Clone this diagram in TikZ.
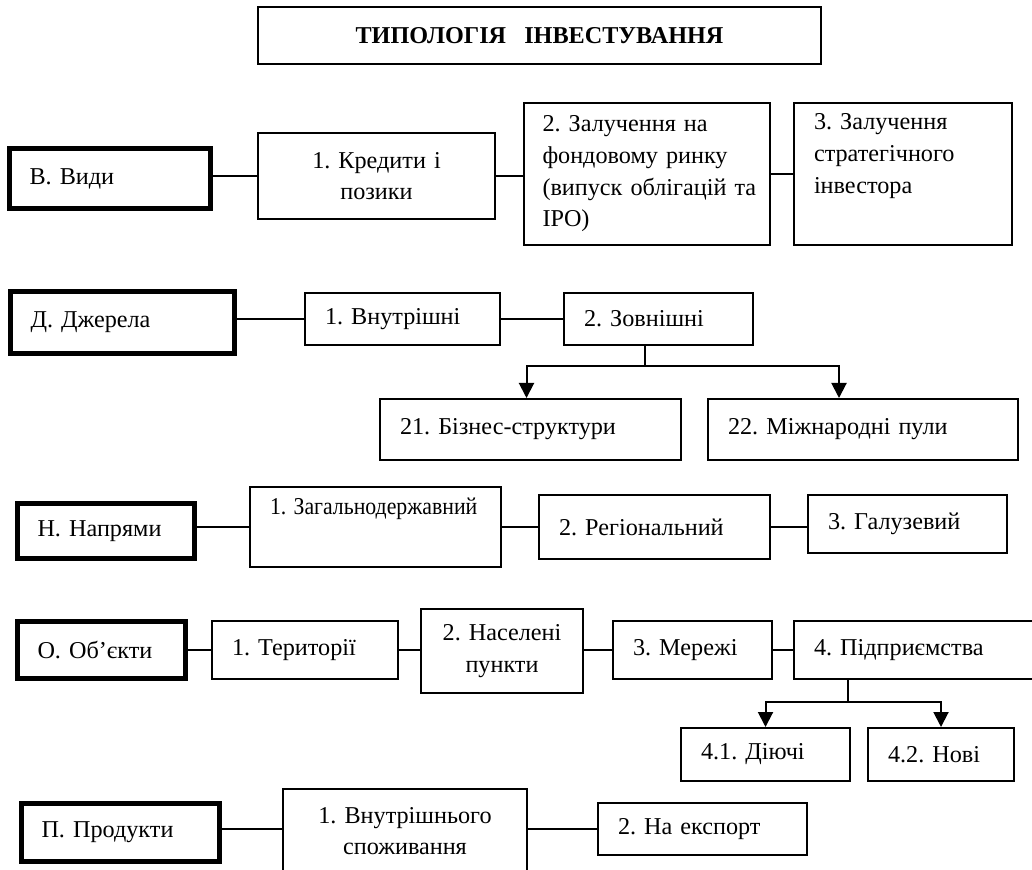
\documentclass[tikz,border=0pt]{standalone}
\usepackage{fontspec}
\setmainfont{Liberation Serif}
\usepackage{graphicx}
\usetikzlibrary{arrows.meta}
\frenchspacing
\newcommand{\diagfont}{\fontsize{12.1pt}{15.85pt}\selectfont}

\begin{document}
\begin{tikzpicture}[
    x=0.5pt, y=-0.5pt,
    box/.style={rectangle, draw, line width=1pt, inner xsep=10pt, inner ysep=0pt, align=left, font=\diagfont},
    cbox/.style={box, inner xsep=5pt, align=center},
    head/.style={box, line width=2.5pt},
    link/.style={line width=1pt},
    arrow/.style={-{Triangle[length=7.5pt,width=7.5pt]}, line width=1pt}
]
    \useasboundingbox (0,0) rectangle (1032,870);

    \node[cbox, text width=271.5pt, minimum height=28.5pt, font=\diagfont\bfseries] (title) at (539.5,35.5) {ТИПОЛОГІЯ\hspace{0.75em}ІНВЕСТУВАННЯ};

    \node[head, text width=80.5pt, minimum height=30pt] (v0) at (110,178.5) {В. Види};
    \node[cbox, text width=108.5pt, minimum height=43pt] (v1) at (376.5,176) {1. Кредити і\\позики};
    \node[box, text width=104pt, minimum height=71pt, inner xsep=9.5pt] (v2) at (646.5,174) {2. Залучення на\\фондовому ринку\\\mbox{(випуск облігацій та}\\IPO)};
    \node[box, text width=89pt, minimum height=71pt] (v3) at (903,174) {3. Залучення\\стратегічного\\інвестора\\\strut};

    \node[head, text width=92pt, minimum height=31pt] (d0) at (122.5,322.5) {Д. Джерела};
    \node[box, text width=77.5pt, minimum height=26pt] (d1) at (402.5,319) {1. Внутрішні};
    \node[box, text width=74.5pt, minimum height=26pt] (d2) at (658.5,319) {2. Зовнішні};
    \node[box, text width=130.5pt, minimum height=30.5pt] (d21) at (530.5,429.5) {21. Бізнес-структури};
    \node[box, text width=135pt, minimum height=30.5pt] (d22) at (863,429.5) {22. Міжнародні пули};
    \coordinate (dfork) at (645,366);

    \node[head, text width=68.5pt, minimum height=27.5pt] (n0) at (106,531) {Н. Напрями};
    \node[box, text width=105.5pt, minimum height=40pt] (n1) at (375.5,527) {\scalebox{0.9}[1]{1. Загальнодержавний}\\\strut};
    \node[box, text width=95.5pt, minimum height=32pt] (n2) at (654.5,527) {2. Регіональний};
    \node[box, text width=79.5pt, minimum height=29pt] (n3) at (907.5,524) {3. Галузевий};

    \node[head, text width=64pt, minimum height=28.5pt] (o0) at (101.5,650) {О. Об’єкти};
    \node[box, text width=73pt, minimum height=29pt] (o1) at (305,650) {1. Території};
    \node[cbox, text width=71pt, minimum height=42pt] (o2) at (502,651) {2. Населені\\пункти};
    \node[box, text width=59.5pt, minimum height=29pt] (o3) at (692.5,650) {3. Мережі};
    \node[box, text width=105.5pt, minimum height=29pt] (o4) at (919.5,650) {4. Підприємства};
    \node[box, text width=64.5pt, minimum height=26.5pt] (o41) at (765.5,754.5) {4.1. Діючі};
    \node[box, text width=53pt, minimum height=26.5pt] (o42) at (941,754.5) {4.2. Нові};
    \coordinate (ofork) at (848,702);

    \node[head, text width=79pt, minimum height=29pt] (p0) at (120.5,832.5) {П. Продукти};
    \node[cbox, text width=112pt, minimum height=42pt] (p1) at (405,831) {1. Внутрішнього\\споживання};
    \node[box, text width=84.5pt, minimum height=26pt] (p2) at (702.5,829) {2. На експорт};

    \draw[link] (v1.west -| v0.east) -- (v1.west);
    \draw[link] (v1.east) -- (v1.east -| v2.west);
    \draw[link] (v2.east) -- (v3.west);

    \draw[link] (d1.west -| d0.east) -- (d1.west);
    \draw[link] (d1.east) -- (d2.west);
    \draw[link] (dfork |- d2.south) -- (dfork);
    \draw[arrow] (dfork) -| ([xshift=-2pt]d21.north);
    \draw[arrow] (dfork) -| ([xshift=-12pt]d22.north);

    \draw[link] (n1.west -| n0.east) -- (n1.west);
    \draw[link] (n1.east) -- (n2.west);
    \draw[link] (n2.east) -- (n2.east -| n3.west);

    \draw[link] (o0.east) -- (o1.west);
    \draw[link] (o1.east) -- (o1.east -| o2.west);
    \draw[link] (o2.east |- o3.west) -- (o3.west);
    \draw[link] (o3.east) -- (o4.west);
    \draw[link] (ofork |- o4.south) -- (ofork);
    \draw[arrow] (ofork) -| (o41.north);
    \draw[arrow] (ofork) -| (o42.north);

    \draw[link] (p2.west -| p0.east) -- (p2.west -| p1.west);
    \draw[link] (p2.west -| p1.east) -- (p2.west);
\end{tikzpicture}
\end{document}
